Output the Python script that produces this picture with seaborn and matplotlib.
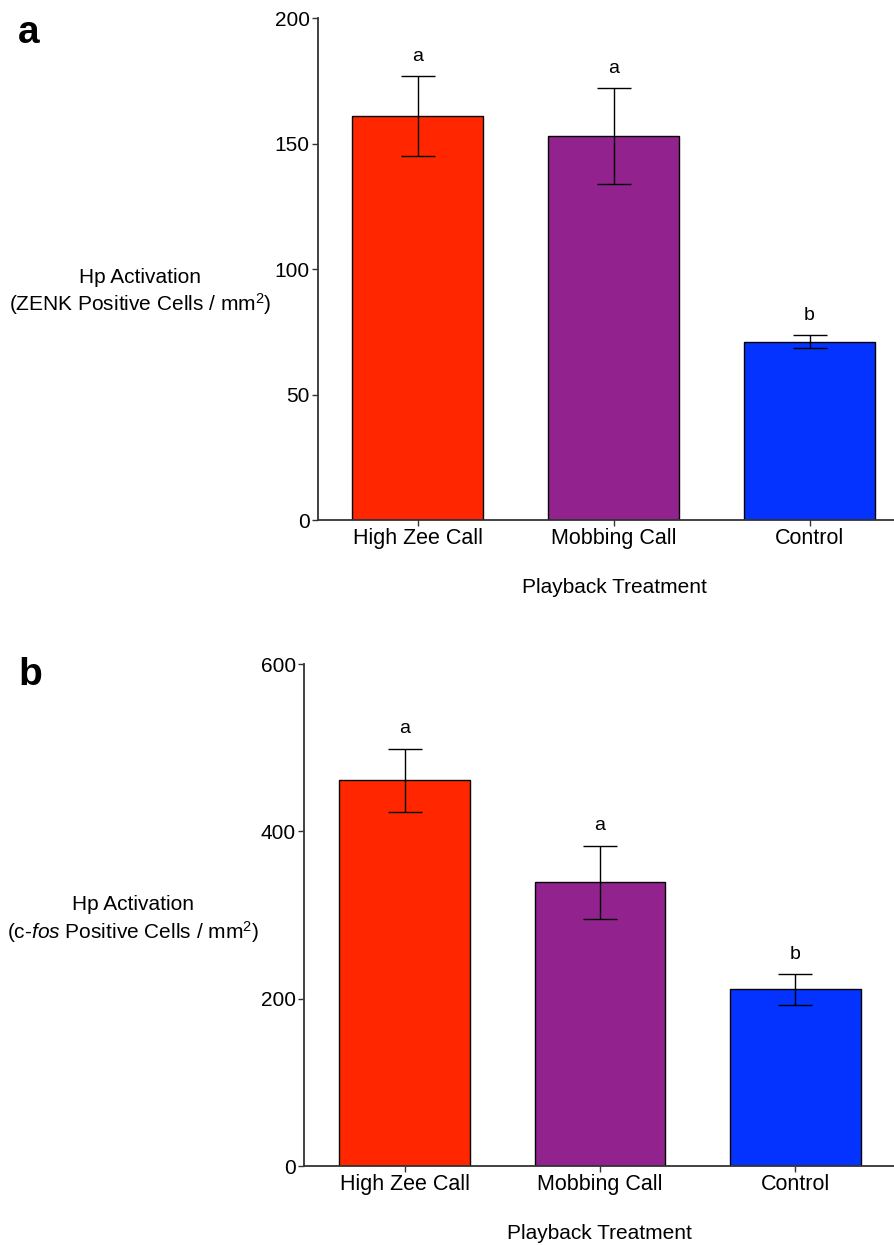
import matplotlib
matplotlib.use("Agg")
import matplotlib.pyplot as plt
import seaborn as sns
import pandas as pd

# data
treatments = ["High Zee Call", "Mobbing Call", "Control"]
zenk_mean = [161, 153, 71]
zenk_sem = [16, 19, 2.6]
fos_mean = [461, 339, 211]
fos_sem = [38, 44, 18]
zenk_letters = ["a", "a", "b"]
fos_letters = ["a", "a", "b"]
bar_colors = ["#FF2600", "#92238E", "#0433FF"]

sns.set_style("white")
plt.rcParams['font.family'] = ['Liberation Sans', 'DejaVu Sans']
plt.rcParams['mathtext.fontset'] = 'custom'
plt.rcParams['mathtext.rm'] = 'Liberation Sans'
plt.rcParams['mathtext.it'] = 'Liberation Sans:italic'
plt.rcParams['text.color'] = 'black'
plt.rcParams['axes.labelcolor'] = 'black'
plt.rcParams['xtick.color'] = 'black'
plt.rcParams['ytick.color'] = 'black'

fig = plt.figure(figsize=(8.95, 12.45), dpi=100)
ax_a = fig.add_axes([0.3553, 0.5823, 0.6447, 0.4032])
ax_b = fig.add_axes([0.3397, 0.06345, 0.6603, 0.4032])


def draw_panel(ax, means, sems, letters, ymax, yticks, xlim, xlab_x):
    df = pd.DataFrame({"treatment": treatments, "value": means})
    sns.barplot(data=df, x="treatment", y="value", hue="treatment",
                palette=bar_colors, saturation=1, width=0.67, errorbar=None,
                edgecolor="black", linewidth=1, legend=False, ax=ax)
    ax.errorbar(range(len(means)), means, yerr=sems, fmt="none",
                ecolor="black", elinewidth=1, capsize=12, capthick=1)
    for i, (m, s, lt) in enumerate(zip(means, sems, letters)):
        ax.annotate(lt, (i, m + s), xytext=(0, 8), textcoords="offset points",
                    ha="center", va="bottom", fontsize=14)
    ax.set_ylim(0, ymax)
    ax.set_yticks(yticks)
    ax.set_xlim(*xlim)
    sns.despine(ax=ax)
    for sp in ["left", "bottom"]:
        ax.spines[sp].set_color("#333333")
        ax.spines[sp].set_linewidth(1.3)
    ax.tick_params(axis="both", direction="out", length=4, width=1,
                   color="#333333", pad=2, left=True, bottom=True)
    ax.tick_params(axis="y", labelsize=15)
    ax.tick_params(axis="x", labelsize=15.5)
    ax.set_ylabel("")
    ax.set_xlabel("Playback Treatment", fontsize=15)
    ax.xaxis.set_label_coords(xlab_x, -0.115)


draw_panel(ax_a, zenk_mean, zenk_sem, zenk_letters, 200, [0, 50, 100, 150, 200],
           (-0.508, 2.436), 0.513)
draw_panel(ax_b, fos_mean, fos_sem, fos_letters, 600, [0, 200, 400, 600],
           (-0.514, 2.509), 0.50)

# horizontal y-axis titles
fig.text(140 / 895, 1 - 277 / 1245, "Hp Activation", ha="center", va="center",
         fontsize=15)
fig.text(140 / 895, 1 - 304 / 1245, r"(ZENK Positive Cells / mm$^2$)",
         ha="center", va="center", fontsize=15)
fig.text(133 / 895, 1 - 905 / 1245, "Hp Activation", ha="center", va="center",
         fontsize=15)
fig.text(133 / 895, 1 - 932 / 1245, r"(c-$\mathit{fos}$ Positive Cells / mm$^2$)",
         ha="center", va="center", fontsize=15)

# panel letters
fig.text(29 / 895, 1 - 33 / 1245, "a", ha="center", va="center",
         fontsize=28, fontweight="bold")
fig.text(30 / 895, 1 - 675 / 1245, "b", ha="center", va="center",
         fontsize=28, fontweight="bold")

fig.savefig("out.png", dpi=100)
